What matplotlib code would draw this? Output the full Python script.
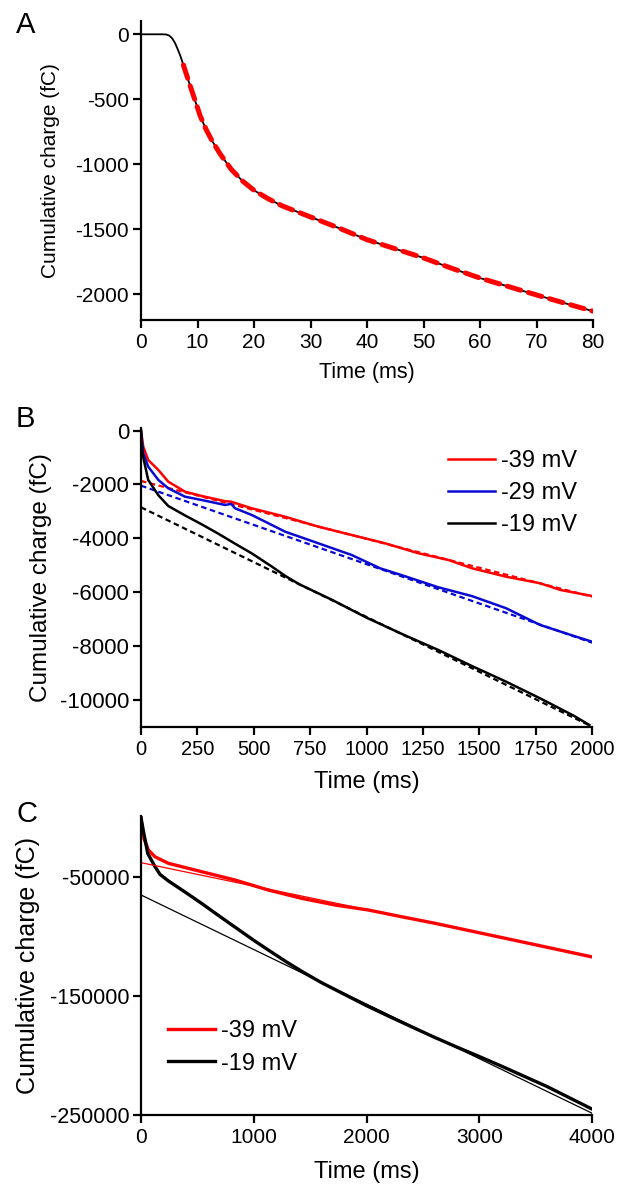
import matplotlib
matplotlib.use("Agg")
import matplotlib.pyplot as plt

plt.rcParams['font.family'] = ['Liberation Sans', 'DejaVu Sans']
plt.rcParams['axes.unicode_minus'] = False

# ---------------- Data ----------------
# Panel A
time_A = [0, 2, 4, 4.5, 5, 5.5, 6, 6.5, 7, 7.5, 8.5, 9.5, 10.5, 11.5, 12.5, 14, 16, 18,
          20, 22.5, 25, 30, 35, 40, 45, 50, 55, 60, 65, 70, 75, 80]
charge_A = [0, 0, 0, -2, -10, -30, -65, -115, -170, -236, -370, -500, -630, -730, -813,
            -920, -1040, -1130, -1200, -1265, -1320, -1405, -1490, -1580, -1650, -1720,
            -1800, -1875, -1940, -2005, -2068, -2130]
fit_time_A = [7.5, 8.5, 9.5, 10.5, 11.5, 12.5, 14, 16, 18, 20, 22.5, 25, 30, 35, 40, 45,
              50, 55, 60, 65, 70, 75, 80]
fit_charge_A = [-236, -370, -500, -630, -730, -813, -920, -1040, -1130, -1200, -1265,
                -1320, -1405, -1490, -1580, -1650, -1720, -1800, -1875, -1940, -2005,
                -2068, -2130]
xticks_A = [0, 10, 20, 30, 40, 50, 60, 70, 80]
yticks_A = [0, -500, -1000, -1500, -2000]

# Panel B
time_B_39 = [0, 10, 32, 77, 121, 195, 269, 373, 400, 430, 491, 639, 786, 934, 1082, 1230,
             1363, 1468, 1619, 1770, 1860, 2000]
charge_B_39 = [0, -595, -1089, -1461, -1896, -2267, -2427, -2620, -2640, -2720, -2884,
               -3197, -3568, -3877, -4185, -4557, -4806, -5114, -5427, -5672, -5921,
               -6144]
time_B_29 = [0, 10, 32, 77, 121, 195, 269, 373, 400, 417, 491, 565, 639, 786, 934, 1060,
             1167, 1318, 1468, 1619, 1770, 1920, 2000]
charge_B_29 = [0, -840, -1338, -1832, -2141, -2453, -2576, -2762, -2720, -2884, -3133,
               -3442, -3754, -4185, -4620, -5114, -5400, -5820, -6150, -6600, -7222,
               -7631, -7843]
time_B_19 = [0, 6, 32, 77, 121, 195, 269, 343, 417, 491, 580, 640, 700, 850, 1000, 1167,
             1318, 1468, 1619, 1770, 1920, 1988]
charge_B_19 = [0, -840, -1832, -2400, -2800, -3150, -3480, -3830, -4200, -4560, -5050,
               -5400, -5700, -6300, -6950, -7594, -8150, -8750, -9330, -9950, -10600,
               -10939]
fit_time_B = [0, 2000]
fit_B_39 = [-1870, -6170]
fit_B_29 = [-2044, -7880]
fit_B_19 = [-2848, -11000]
xticks_B = [0, 250, 500, 750, 1000, 1250, 1500, 1750, 2000]
yticks_B = [0, -2000, -4000, -6000, -8000, -10000]

# Panel C
time_C_39 = [0, 20, 65, 124, 242, 538, 834, 1129, 1425, 1721, 2016, 2312, 2608, 2903,
             3200, 3500, 3800, 4000]
charge_C_39 = [0, -15800, -27000, -32700, -38200, -45300, -52300, -60700, -67700,
               -73300, -77500, -83200, -88700, -94700, -100700, -106800, -112900,
               -117000]
time_C_19 = [0, 25, 60, 124, 168, 242, 400, 538, 700, 850, 1000, 1150, 1300, 1450, 1600,
             1800, 2000, 2200, 2400, 2600, 2800, 3000, 3200, 3400, 3600, 3800, 4000]
charge_C_19 = [0, -13000, -30000, -41000, -47500, -53000, -63000, -72000, -83000,
               -93000, -103000, -112500, -121800, -130500, -138600, -148300, -158000,
               -167000, -175800, -184500, -192800, -200800, -209000, -217500, -226000,
               -235500, -245000]
fit_time_C = [0, 4000]
fit_C_39 = [-37700, -116500]
fit_C_19 = [-64870, -248470]
xticks_C = [0, 1000, 2000, 3000, 4000]
yticks_C = [-50000, -150000, -250000]

labels_B = ['-39 mV', '-29 mV', '-19 mV']
labels_C = ['-39 mV', '-19 mV']

RED = '#ff0000'
BLUE = '#0a0ad2'
BLACK = '#000000'

# ---------------- Figure ----------------
W, H = 619, 1186
fig = plt.figure(figsize=(W / 100, H / 100), dpi=100)


def px_axes(left, right, top, bottom):
    return fig.add_axes([left / W, 1 - bottom / H, (right - left) / W, (bottom - top) / H])


def style(ax, tick_fs_x, tick_fs_y):
    for s in ['top', 'right']:
        ax.spines[s].set_visible(False)
    for s in ['left', 'bottom']:
        ax.spines[s].set_linewidth(1.6)
    ax.tick_params(direction='out', length=5.5, width=1.6, color='black')
    ax.tick_params(axis='x', labelsize=tick_fs_x, pad=4)
    ax.tick_params(axis='y', labelsize=tick_fs_y, pad=3)


# Panel A
axA = px_axes(141, 593, 21.3, 320.3)
axA.plot(time_A, charge_A, color=BLACK, lw=1.3, solid_capstyle='round')
axA.plot(fit_time_A, fit_charge_A, color=RED, lw=3.6, dashes=(2.8, 1.6),
         dash_capstyle='round')
axA.set_xlim(0, 80)
axA.set_ylim(-2200, 100)
axA.set_xticks(xticks_A)
axA.set_xticklabels([str(v) for v in xticks_A])
axA.set_yticks(yticks_A)
axA.set_yticklabels([str(v) for v in yticks_A])
style(axA, 15, 15)
axA.set_xlabel('Time (ms)', fontsize=15.5)
axA.xaxis.set_label_coords(0.5, -0.14)
axA.set_ylabel('Cumulative charge (fC)', fontsize=15)
axA.yaxis.set_label_coords(-0.179, 0.5)

# Panel B
axB = px_axes(141, 592, 428.0, 726.6)
axB.plot(fit_time_B, fit_B_39, color=RED, lw=1.6, dashes=(2.5, 1.6))
axB.plot(fit_time_B, fit_B_29, color=BLUE, lw=1.6, dashes=(2.5, 1.6))
axB.plot(fit_time_B, fit_B_19, color=BLACK, lw=1.6, dashes=(2.5, 1.6))
lB1, = axB.plot(time_B_39, charge_B_39, color=RED, lw=1.8)
lB2, = axB.plot(time_B_29, charge_B_29, color=BLUE, lw=1.8)
lB3, = axB.plot(time_B_19, charge_B_19, color=BLACK, lw=1.8)
axB.set_xlim(0, 2000)
axB.set_ylim(-11000, 100)
axB.set_xticks(xticks_B)
axB.set_xticklabels([str(v) for v in xticks_B])
axB.set_yticks(yticks_B)
axB.set_yticklabels([str(v) for v in yticks_B])
style(axB, 14.5, 16)
axB.set_xlabel('Time (ms)', fontsize=17)
axB.xaxis.set_label_coords(0.5, -0.15)
axB.set_ylabel('Cumulative charge (fC)', fontsize=17.5)
axB.yaxis.set_label_coords(-0.197, 0.5)
axB.legend([lB1, lB2, lB3], labels_B, loc='upper left',
           bbox_to_anchor=(448 / W, 1 - 450 / H), bbox_transform=fig.transFigure,
           frameon=False, fontsize=17, handlelength=2.0, handletextpad=0.25,
           labelspacing=0.42, borderpad=0, borderaxespad=0)

# Panel C
axC = px_axes(141, 592, 815.5, 1115.0)
lC1, = axC.plot(time_C_39, charge_C_39, color=RED, lw=2.4)
lC2, = axC.plot(time_C_19, charge_C_19, color=BLACK, lw=2.4)
axC.plot(fit_time_C, fit_C_39, color=RED, lw=0.9)
axC.plot(fit_time_C, fit_C_19, color=BLACK, lw=0.9)
axC.set_xlim(0, 4000)
axC.set_ylim(-250000, 2000)
axC.set_xticks(xticks_C)
axC.set_xticklabels([str(v) for v in xticks_C])
axC.set_yticks(yticks_C)
axC.set_yticklabels([str(v) for v in yticks_C])
style(axC, 15, 15.5)
axC.set_xlabel('Time (ms)', fontsize=17)
axC.xaxis.set_label_coords(0.5, -0.155)
axC.set_ylabel('Cumulative charge (fC)', fontsize=18)
axC.yaxis.set_label_coords(-0.224, 0.5)
axC.legend([lC1, lC2], labels_C, loc='upper left',
           bbox_to_anchor=(168 / W, 1 - 1020 / H), bbox_transform=fig.transFigure,
           frameon=False, fontsize=17, handlelength=2.0, handletextpad=0.25,
           labelspacing=0.45, borderpad=0, borderaxespad=0)

# Panel letters
fig.text(16 / W, 1 - 33 / H, 'A', fontsize=21, va='baseline', ha='left')
fig.text(16 / W, 1 - 427 / H, 'B', fontsize=21, va='baseline', ha='left')
fig.text(16 / W, 1 - 822 / H, 'C', fontsize=21, va='baseline', ha='left')

fig.savefig('out.png', dpi=100)
